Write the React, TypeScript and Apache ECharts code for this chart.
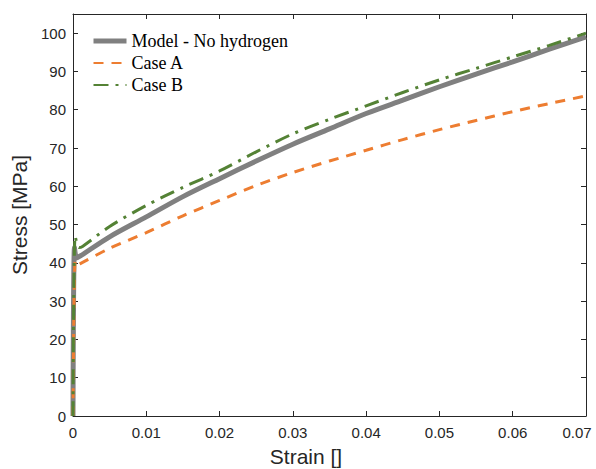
import React, { useEffect, useRef } from "react";
import * as echarts from "echarts";

const xTicks = [0, 0.01, 0.02, 0.03, 0.04, 0.05, 0.06, 0.07];
const yTicks = [0, 10, 20, 30, 40, 50, 60, 70, 80, 90, 100];

const seriesNames = ["Model - No hydrogen", "Case A", "Case B"];

const modelData: [number, number][] = [
  [0, 0], [0.0002, 44], [0.0005, 41.3], [0.001, 41.8], [0.005, 46.8], [0.01, 52],
  [0.015, 57.3], [0.02, 62], [0.025, 66.6], [0.03, 71], [0.035, 75], [0.04, 79],
  [0.045, 82.5], [0.05, 86], [0.055, 89.3], [0.06, 92.5], [0.065, 95.8], [0.07, 99],
];

const caseAData: [number, number][] = [
  [0, 0], [0.0003, 40.5], [0.0006, 39.5], [0.001, 39.8], [0.005, 43.8], [0.01, 47.9],
  [0.015, 52.3], [0.02, 56.3], [0.025, 60.2], [0.03, 63.6], [0.035, 66.6],
  [0.04, 69.4], [0.045, 72.2], [0.05, 74.8], [0.055, 77.2], [0.06, 79.5],
  [0.065, 81.6], [0.07, 83.6],
];

const caseBData: [number, number][] = [
  [0, 0], [0.0003, 47], [0.0008, 44], [0.0013, 44.3], [0.005, 49.5], [0.01, 55], [0.015, 59.7],
  [0.02, 64], [0.025, 69], [0.03, 73.7], [0.035, 77.5], [0.04, 81],
  [0.045, 84.5], [0.05, 87.8], [0.055, 90.8], [0.06, 93.8], [0.065, 96.8],
  [0.07, 100],
];

export default function App() {
  const ref = useRef<HTMLDivElement>(null);
  useEffect(() => {
    if (!ref.current) return;
    const chart = echarts.init(ref.current, undefined, { renderer: "svg" });
    const axisColor = "#262626";
    const labelFont = { fontFamily: "Liberation Sans", fontSize: 15, color: axisColor };
    const lineCommon = { show: true, onZero: false, lineStyle: { color: axisColor, width: 1 } };
    const tickCommon = { show: true, inside: true, length: 5, lineStyle: { color: axisColor } };
    const xMax = xTicks[xTicks.length - 1];
    chart.setOption({
      animation: false,
      backgroundColor: "#ffffff",
      grid: { left: 73, right: 10, top: 14, bottom: 53, containLabel: false, outerBoundsMode: "none" },
      legend: {
        orient: "vertical",
        left: 86,
        top: 27,
        itemWidth: 33,
        itemHeight: 14,
        itemGap: 4,
        data: [
          { name: seriesNames[0], lineStyle: { width: 5 } },
          { name: seriesNames[1] },
          { name: seriesNames[2] },
        ],
        itemStyle: { opacity: 0 },
        textStyle: { fontFamily: "Liberation Serif", fontSize: 18, color: "#000" },
      },
      xAxis: [
        {
          type: "value",
          min: 0,
          max: xMax,
          interval: 0.01,
          position: "bottom",
          name: "Strain []",
          nameLocation: "middle",
          nameGap: 30,
          nameTextStyle: {
            fontFamily: "Liberation Sans",
            fontSize: 21,
            color: axisColor,
            padding: [0, 47, 0, 0],
          },
          axisLine: lineCommon,
          axisTick: tickCommon,
          axisLabel: {
            ...labelFont,
            margin: 9,
            formatter: (v: number) => {
              const t = xTicks.find((k) => Math.abs(k - v) < 1e-9);
              if (t === undefined) return "";
              if (t === xMax) return "{m|" + String(t) + "}";
              return String(t);
            },
            rich: {
              m: { ...labelFont, padding: [0, 18, 0, 0] },
            },
          },
          splitLine: { show: false },
        },
        {
          type: "value",
          min: 0,
          max: xMax,
          interval: 0.01,
          position: "top",
          axisLine: lineCommon,
          axisTick: tickCommon,
          axisLabel: { show: false },
          splitLine: { show: false },
        },
      ],
      yAxis: [
        {
          type: "value",
          min: 0,
          max: 105,
          interval: 10,
          position: "left",
          name: "Stress [MPa]",
          nameLocation: "middle",
          nameGap: 35,
          nameTextStyle: { fontFamily: "Liberation Sans", fontSize: 21, color: axisColor },
          axisLine: lineCommon,
          axisTick: tickCommon,
          axisLabel: {
            ...labelFont,
            margin: 7,
            formatter: (v: number) => (yTicks.includes(v) ? String(v) : ""),
          },
          splitLine: { show: false },
        },
        {
          type: "value",
          min: 0,
          max: 105,
          interval: 10,
          position: "right",
          axisLine: lineCommon,
          axisTick: tickCommon,
          axisLabel: { show: false },
          splitLine: { show: false },
        },
      ],
      series: [
        {
          name: seriesNames[0],
          type: "line",
          data: modelData,
          smooth: 0.3,
          symbol: "none",
          color: "#808080",
          lineStyle: { color: "#808080", width: 5 },
          z: 2,
        },
        {
          name: seriesNames[1],
          type: "line",
          data: caseAData,
          smooth: 0.3,
          symbol: "none",
          color: "#ED7D31",
          lineStyle: { color: "#ED7D31", width: 3, type: [10, 8] },
          z: 3,
        },
        {
          name: seriesNames[2],
          type: "line",
          data: caseBData,
          smooth: 0.3,
          symbol: "none",
          color: "#548235",
          lineStyle: { color: "#548235", width: 3, type: [15, 7, 3, 7] },
          z: 4,
        },
      ],
    });
    return () => chart.dispose();
  }, []);
  return <div ref={ref} style={{ width: 596, height: 469, position: "absolute", left: 0, top: 0 }} />;
}
